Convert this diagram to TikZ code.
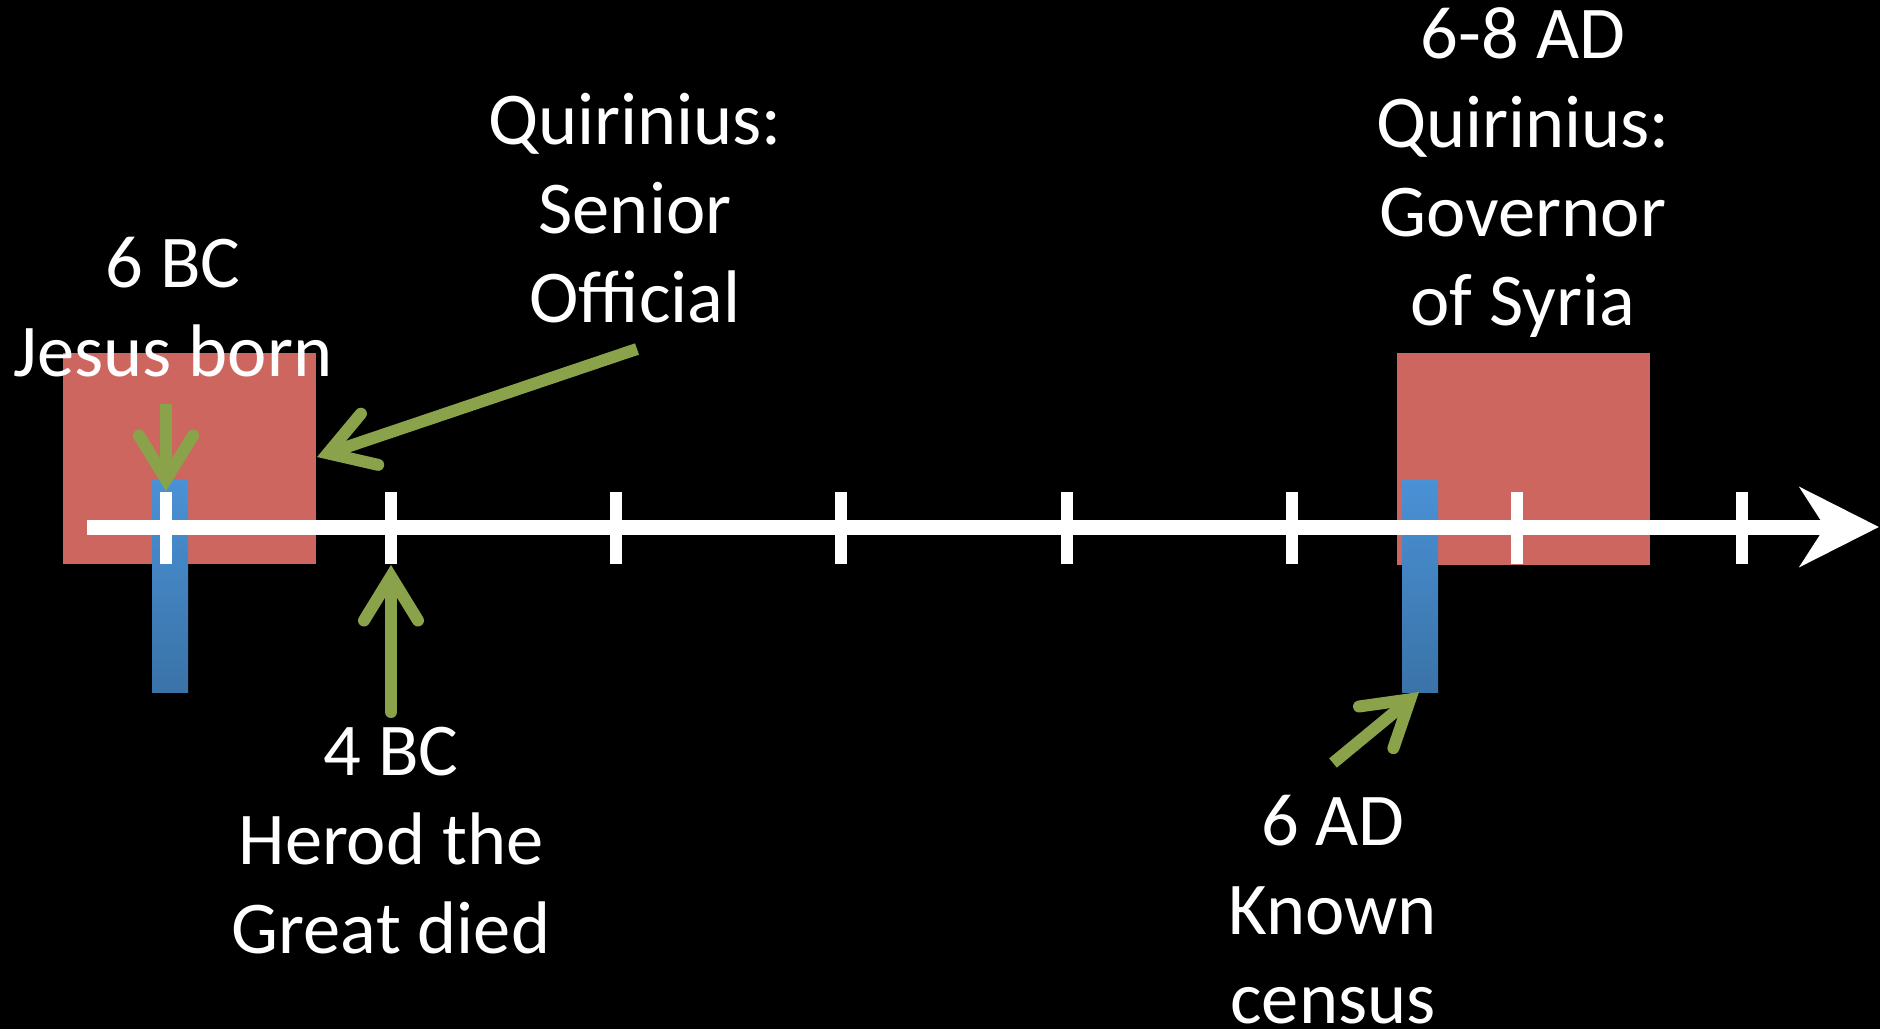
\documentclass[tikz,border=0pt]{standalone}
\usepackage{fontspec}
\setmainfont{Carlito}
\usetikzlibrary{arrows.meta}
\definecolor{boxred}{RGB}{206,102,96}
\definecolor{bartop}{RGB}{74,145,213}
\definecolor{barbot}{RGB}{58,115,168}
\definecolor{arrgreen}{RGB}{138,163,74}
\tikzset{
  redbox/.style={fill=boxred, draw=none},
  bluebar/.style={top color=bartop, bottom color=barbot, draw=none},
  tickmark/.style={fill=white, draw=none},
  greenarrow/.style={draw=arrgreen, line width=12pt,
    -{Straight Barb[length=44pt, width=54pt, line cap=round, line join=miter]}},
  label/.style={text=white, align=center, inner sep=0pt, anchor=base,
    font=\fontsize{74.5}{89}\selectfont},
}
\begin{document}
\begin{tikzpicture}[x=1pt, y=-1pt]
\useasboundingbox (0,0) rectangle (1880,1029);
\fill[black] (0,0) rectangle (1880,1029);
% red ranges
\fill[redbox] (63,353) rectangle (316,564);
\fill[redbox] (1397,353) rectangle (1650,565);
% blue bars
\shade[bluebar] (152,479) rectangle (188,692);
\shade[bluebar] (1402,479) rectangle (1438,692);
% axis
\coordinate (axisL) at (87,527);
\coordinate (axisR) at (1879,527);
\draw[white, line width=15pt, -{Stealth[length=79pt, width=79pt, inset=25pt]}] (axisL) -- (axisR);
% ticks
\foreach \x in {165.5,391,616,841,1067,1292,1517,1742}{
  \fill[tickmark] (\x-6,492) rectangle (\x+6,564);
}
% green arrows
\coordinate (jesusTail) at (166,404);
\coordinate (jesusTip) at (166,491);
\coordinate (herodTail) at (391,712);
\coordinate (herodTip) at (391,565);
\coordinate (quirTail) at (637,349);
\coordinate (quirTip) at (317,457);
\coordinate (censusTail) at (1333,763);
\coordinate (censusTip) at (1419,692);
\draw[greenarrow] (jesusTail) -- (jesusTip);
\draw[greenarrow, line cap=round] (herodTail) -- (herodTip);
\draw[greenarrow] (quirTail) -- (quirTip);
\draw[greenarrow] (censusTail) -- (censusTip);
% labels
\node[label] (jesus) at (173,376) {6 BC\\Jesus born};
\node[label] (senior) at (635,322) {Quirinius:\\Senior\\Official};
\node[label] (governor) at (1523,325) {6-8 AD\\Quirinius:\\Governor\\of Syria};
\node[label] (herod) at (391,953) {4 BC\\Herod the\\Great died};
\node[label] (census) at (1333,1023) {6 AD\\Known\\census};
\end{tikzpicture}
\end{document}
